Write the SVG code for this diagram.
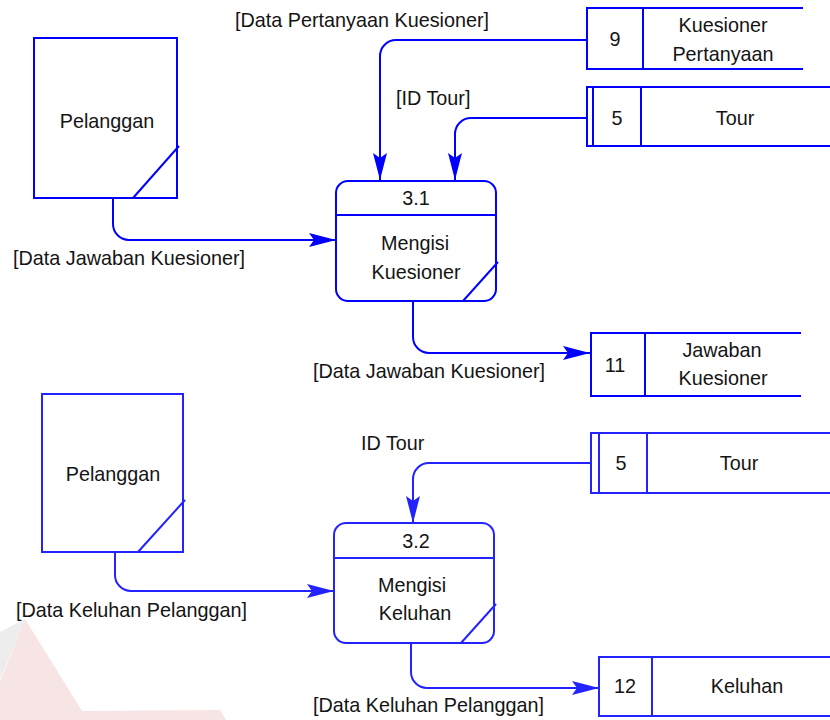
<svg xmlns="http://www.w3.org/2000/svg" width="830" height="720" viewBox="0 0 830 720">
  <style>
    .shape { fill: none; stroke: #0000ff; stroke-width: 2; }
    .shape.lo { stroke: #2323ff; }
    .flow { fill: none; stroke: #0000ff; stroke-width: 2; marker-end: url(#arrow); }
    .flow.lo { stroke: #2323ff; marker-end: url(#arrow-lo); }
    text { font-family: "Liberation Sans", Arial, sans-serif; font-size: 19.8px; fill: #141414; }
    .mid { text-anchor: middle; }
  </style>
  <defs>
    <marker id="arrow" viewBox="-28 -8 29 16" refX="0" refY="0" markerWidth="29" markerHeight="16" markerUnits="userSpaceOnUse" orient="auto">
      <path d="M0,0 L-27,-7 L-22,0 L-27,7 Z" fill="#0000ff"/>
    </marker>
    <marker id="arrow-lo" viewBox="-28 -8 29 16" refX="0" refY="0" markerWidth="29" markerHeight="16" markerUnits="userSpaceOnUse" orient="auto">
      <path d="M0,0 L-27,-7 L-22,0 L-27,7 Z" fill="#2323ff"/>
    </marker>
  </defs>

  <rect width="830" height="720" fill="#ffffff"/>

  <!-- faint background emblem, lower left -->
  <g id="emblem" opacity="0.45">
    <polygon points="25,619 0,632 0,680" fill="#d9d9d9"/>
    <polygon points="25,619 82,711 220,710 226,720 0,720 0,682" fill="#efc4c4"/>
  </g>

  <!-- upper level: 3.1 Mengisi Kuesioner -->
  <g id="ext-pelanggan-1">
    <rect class="shape" x="34" y="38" width="143" height="160"/>
    <line class="shape" x1="133" y1="198" x2="179" y2="146"/>
    <text class="mid" x="107" y="128">Pelanggan</text>
  </g>

  <g id="proc-3-1">
    <rect class="shape" x="336" y="181" width="160" height="120" rx="12"/>
    <line class="shape" x1="336" y1="215" x2="496" y2="215"/>
    <line class="shape" x1="463" y1="301" x2="498" y2="262"/>
    <text class="mid" x="416" y="205">3.1</text>
    <text class="mid" x="415" y="250">Mengisi</text>
    <text class="mid" x="416" y="279">Kuesioner</text>
  </g>

  <g id="store-9">
    <path class="shape" d="M803,8 H587 V69 H803 M643,8 V69"/>
    <text class="mid" x="615" y="46">9</text>
    <text class="mid" x="723" y="32">Kuesioner</text>
    <text class="mid" x="723" y="61">Pertanyaan</text>
  </g>

  <g id="store-5-upper">
    <path class="shape" d="M830,87 H587 V146 H830 M593,87 V146 M641,87 V146"/>
    <text class="mid" x="617" y="125">5</text>
    <text class="mid" x="735" y="125">Tour</text>
  </g>

  <g id="store-11">
    <path class="shape" d="M801,333 H591 V396 H801 M645,333 V396"/>
    <text class="mid" x="615" y="372">11</text>
    <text class="mid" x="722" y="357">Jawaban</text>
    <text class="mid" x="723" y="385">Kuesioner</text>
  </g>

  <!-- lower level: 3.2 Mengisi Keluhan -->
  <g id="ext-pelanggan-2">
    <rect class="shape lo" x="42" y="394" width="141" height="158"/>
    <line class="shape lo" x1="138" y1="552" x2="185" y2="500"/>
    <text class="mid" x="113" y="481">Pelanggan</text>
  </g>

  <g id="proc-3-2">
    <rect class="shape lo" x="334" y="523" width="160" height="120" rx="12"/>
    <line class="shape lo" x1="334" y1="558" x2="494" y2="558"/>
    <line class="shape lo" x1="461" y1="643" x2="496" y2="604"/>
    <text class="mid" x="416" y="548">3.2</text>
    <text class="mid" x="412" y="592">Mengisi</text>
    <text class="mid" x="415" y="620">Keluhan</text>
  </g>

  <g id="store-5-lower">
    <path class="shape lo" d="M830,433 H591 V493 H830 M599,433 V493 M647,433 V493"/>
    <text class="mid" x="621" y="470">5</text>
    <text class="mid" x="739" y="470">Tour</text>
  </g>

  <g id="store-12">
    <path class="shape lo" d="M830,657 H599 V716 H830 M652,657 V716"/>
    <text class="mid" x="625" y="693">12</text>
    <text class="mid" x="747" y="693">Keluhan</text>
  </g>

  <!-- data flows -->
  <g id="connectors">
    <path class="flow" d="M587,40 H396 A16,16 0 0 0 380,56 V180"/>
    <path class="flow" d="M587,118 H471 A16,16 0 0 0 455,134 V180"/>
    <path class="flow" d="M113,198 V224 A16,16 0 0 0 129,240 H336"/>
    <path class="flow" d="M413,301 V337 A16,16 0 0 0 429,353 H590"/>
    <path class="flow lo" d="M591,463 H429 A16,16 0 0 0 413,479 V523"/>
    <path class="flow lo" d="M115,552 V575 A16,16 0 0 0 131,591 H334"/>
    <path class="flow lo" d="M411,643 V672 A16,16 0 0 0 427,688 H599"/>

    <text x="235" y="27">[Data Pertanyaan Kuesioner]</text>
    <text x="396" y="105">[ID Tour]</text>
    <text x="13" y="265">[Data Jawaban Kuesioner]</text>
    <text x="313" y="378">[Data Jawaban Kuesioner]</text>
    <text x="361" y="450">ID Tour</text>
    <text x="16" y="617">[Data Keluhan Pelanggan]</text>
    <text x="313" y="712">[Data Keluhan Pelanggan]</text>
  </g>
</svg>
